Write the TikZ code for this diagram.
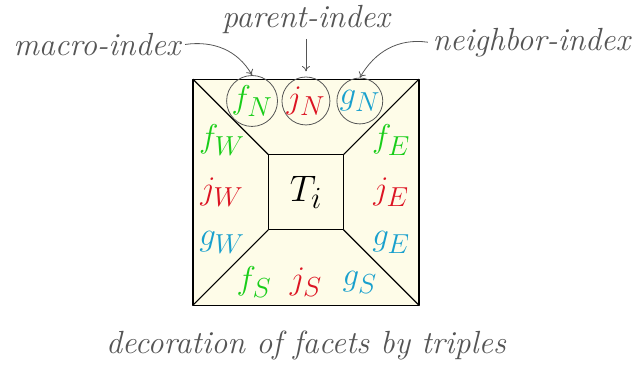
\documentclass[tikz,border=0pt]{standalone}
\usetikzlibrary{arrows.meta, positioning, calc}

\definecolor{facetfill}{RGB}{254,252,232}
\definecolor{fgreen}{RGB}{25,205,25}
\definecolor{jred}{RGB}{220,20,35}
\definecolor{gcyan}{RGB}{25,160,205}
\definecolor{labelgray}{RGB}{85,85,85}

\begin{document}
\begin{tikzpicture}[
    edge/.style={line width=0.9pt, line join=round},
    entry/.style={font=\fontsize{24.88}{30}\selectfont},
    slot/.style={entry, draw=labelgray, line width=0.6pt, circle, minimum size=0.96cm, inner sep=0pt},
    tag/.style={font=\fontsize{24.2}{29}\selectfont\itshape, text=labelgray},
    pointer/.style={->, line width=0.6pt, draw=labelgray, >={To[length=4pt,width=6pt]}}
  ]
  \useasboundingbox (-8.12,-4.65) rectangle (8.68,5.10);

  % facets of T_i
  \fill[facetfill] (-3,-3) rectangle (3,3);
  \draw[edge] (-3,-3) rectangle (3,3);
  \draw[edge] (-1,-1) rectangle (1,1);
  \draw[edge] (-3,3) -- (-1,1);
  \draw[edge] (3,3) -- (1,1);
  \draw[edge] (-3,-3) -- (-1,-1);
  \draw[edge] (3,-3) -- (1,-1);

  \node[entry, scale=1.12, transform shape] (Ti) at (0,0) {$T_i$};

  % north facet
  \node[slot, text=fgreen] (fN) at (-1.43,2.42) {$f_N$};
  \node[slot, text=jred] (jN) at (0,2.42) {$j_N$};
  \node[slot, text=gcyan] (gN) at (1.43,2.42) {$g_N$};

  % west facet
  \node[entry, text=fgreen] (fW) at (-2.23,1.38) {$f_W$};
  \node[entry, text=jred] (jW) at (-2.23,0) {$j_W$};
  \node[entry, text=gcyan] (gW) at (-2.23,-1.33) {$g_W$};

  % east facet
  \node[entry, text=fgreen] (fE) at (2.26,1.38) {$f_E$};
  \node[entry, text=jred] (jE) at (2.26,0) {$j_E$};
  \node[entry, text=gcyan] (gE) at (2.26,-1.33) {$g_E$};

  % south facet
  \node[entry, text=fgreen] (fS) at (-1.38,-2.39) {$f_S$};
  \node[entry, text=jred] (jS) at (0,-2.39) {$j_S$};
  \node[entry, text=gcyan] (gS) at (1.43,-2.39) {$g_S$};

  % index labels
  \node[tag] (macro) at (-5.55,3.92) {macro-index};
  \node[tag] (parent) at (0,4.57) {parent-index};
  \node[tag] (neighbor) at (5.98,3.98) {neighbor-index};

  \draw[pointer] (macro.east) to[out=8, in=120] (fN.north);
  \draw[pointer] (parent.south) -- ([yshift=4pt]jN.north);
  \draw[pointer] (neighbor.west) to[out=172, in=60] (gN.north);

  \node[tag] (caption) at (0,-4.06) {decoration of facets by triples};
\end{tikzpicture}
\end{document}
